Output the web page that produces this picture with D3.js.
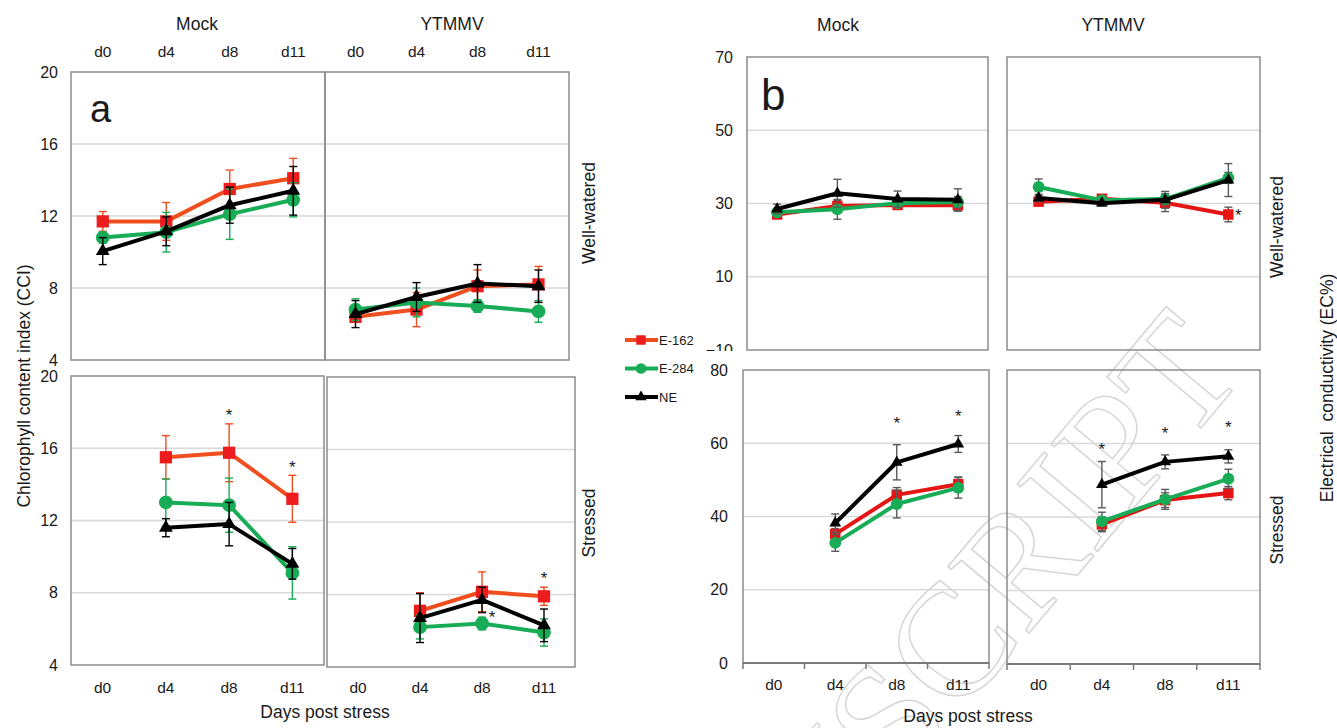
<!DOCTYPE html>
<html>
<head>
<meta charset="utf-8">
<script src="https://cdn.jsdelivr.net/npm/d3@7"></script>
<style>
body { margin: 0; background: #fff; }
text { font-family: "Liberation Sans", Arial, sans-serif; fill: #1a1a1a; }
</style>
</head>
<body>
<script>
// categories
var days = ["d0", "d4", "d8", "d11"];
var lineNames = ["E-162", "E-284", "NE"];

// tick labels
var ccTicks = [4, 8, 12, 16, 20];
var ecTicksTop = [-10, 10, 30, 50, 70];
var ecTicksBottom = [0, 20, 40, 60, 80];

// panel a: chlorophyll content index (CCI), mean and error
var ccMockWellE162 = [11.7, 11.7, 13.5, 14.1];
var ccMockWellE162Err = [0.55, 1.05, 1.05, 1.1];
var ccMockWellE284 = [10.8, 11.1, 12.1, 12.9];
var ccMockWellE284Err = [0.3, 1.1, 1.4, 0.95];
var ccMockWellNE = [10.05, 11.15, 12.6, 13.4];
var ccMockWellNEErr = [0.75, 0.8, 1.0, 1.35];

var ccVirusWellE162 = [6.4, 6.8, 8.1, 8.2];
var ccVirusWellE162Err = [0.3, 0.95, 0.9, 1.0];
var ccVirusWellE284 = [6.8, 7.2, 7.0, 6.7];
var ccVirusWellE284Err = [0.6, 0.8, 0.35, 0.6];
var ccVirusWellNE = [6.55, 7.5, 8.25, 8.1];
var ccVirusWellNEErr = [0.75, 0.8, 1.05, 0.9];

var ccMockStressE162 = [null, 15.5, 15.75, 13.2];
var ccMockStressE162Err = [null, 1.2, 1.6, 1.3];
var ccMockStressE284 = [null, 13.0, 12.85, 9.1];
var ccMockStressE284Err = [null, 1.3, 1.5, 1.45];
var ccMockStressNE = [null, 11.6, 11.8, 9.6];
var ccMockStressNEErr = [null, 0.5, 1.2, 0.85];

var ccVirusStressE162 = [null, 7.1, 8.15, 7.9];
var ccVirusStressE162Err = [null, 1.0, 1.1, 0.5];
var ccVirusStressE284 = [null, 6.2, 6.4, 5.9];
var ccVirusStressE284Err = [null, 0.65, 0.35, 0.75];
var ccVirusStressNE = [null, 6.7, 7.7, 6.3];
var ccVirusStressNEErr = [null, 1.35, 0.7, 0.9];

// panel b: electrical conductivity (EC%), mean and error
var ecMockWellE162 = [27.0, 29.3, 29.6, 29.5];
var ecMockWellE162Err = [0.8, 1.5, 1.2, 1.6];
var ecMockWellE284 = [27.6, 28.4, 30.1, 30.4];
var ecMockWellE284Err = [0.8, 2.7, 1.0, 1.5];
var ecMockWellNE = [28.5, 32.8, 31.2, 31.0];
var ecMockWellNEErr = [1.3, 3.8, 2.2, 3.0];

var ecVirusWellE162 = [30.5, 31.3, 30.2, 27.0];
var ecVirusWellE162Err = [1.0, 1.0, 2.4, 2.0];
var ecVirusWellE284 = [34.5, 30.9, 31.2, 37.0];
var ecVirusWellE284Err = [2.2, 0.8, 1.5, 1.5];
var ecVirusWellNE = [31.5, 30.1, 31.0, 36.4];
var ecVirusWellNEErr = [1.0, 0.8, 2.3, 4.5];

var ecMockStressE162 = [null, 35.2, 45.9, 48.8];
var ecMockStressE162Err = [null, 1.5, 2.0, 2.0];
var ecMockStressE284 = [null, 32.8, 43.4, 47.8];
var ecMockStressE284Err = [null, 2.3, 3.8, 2.8];
var ecMockStressNE = [null, 38.2, 54.8, 59.8];
var ecMockStressNEErr = [null, 2.5, 4.8, 2.3];

var ecVirusStressE162 = [null, 38.0, 44.6, 46.5];
var ecVirusStressE162Err = [null, 2.0, 2.0, 1.8];
var ecVirusStressE284 = [null, 38.8, 44.8, 50.4];
var ecVirusStressE284Err = [null, 2.5, 2.7, 2.6];
var ecVirusStressNE = [null, 48.8, 55.0, 56.5];
var ecVirusStressNEErr = [null, 6.3, 1.9, 1.8];

// significance stars (day, value where the star sits, placed beside the point or above)
var ccMockStressStars = [{day: "d8", v: 18.1}, {day: "d11", v: 15.2}];
var ccVirusStressStars = [{day: "d8", v: 7.0, beside: true}, {day: "d11", v: 9.15}];
var ecVirusWellStars = [{day: "d11", v: 28.2, beside: true}];
var ecMockStressStars = [{day: "d8", v: 66.9}, {day: "d11", v: 68.8}];
var ecVirusStressStars = [{day: "d4", v: 59.8}, {day: "d8", v: 64.2}, {day: "d11", v: 65.8}];

var width = 1337, height = 728;

var svg = d3.select("body").append("svg")
    .attr("width", width)
    .attr("height", height);

svg.append("rect").attr("width", width).attr("height", height).attr("fill", "#fff");

// faint watermark behind everything
svg.append("text")
    .attr("transform", "translate(1248,372) rotate(-50)")
    .attr("text-anchor", "end")
    .style("font-family", "'Liberation Serif', 'Times New Roman', serif")
    .style("font-size", "160px")
    .style("fill", "none")
    .style("stroke", "#d6d6d6")
    .style("stroke-width", 1.5)
    .text("MANUSCRIPT");

var colA = {red: "#f04e1e", redMark: "#ec1c1c", green: "#17ac55", black: "#000"};
var colB = {red: "#e51515", redMark: "#e51515", green: "#17ac55", black: "#000"};

function makeSeries(vals, errs, cols, errGray) {
    var names = ["red", "green", "black"];
    var marks = [d3.symbolSquare, d3.symbolCircle, d3.symbolTriangle];
    return vals.map(function(v, i) {
        var c = cols[names[i]];
        return {
            name: lineNames[i],
            values: v,
            errors: errs[i],
            line: c,
            mark: i == 0 ? cols.redMark : c,
            err: errGray ? "#5a5a5a" : c,
            symbol: marks[i]
        };
    });
}

function drawPanel(p) {
    var x = d3.scaleBand().domain(days).range([p.x0, p.x1]);
    var y = d3.scaleLinear().domain([p.ticks[0], p.ticks[p.ticks.length - 1]]).range([p.y1, p.y0]);
    var g = svg.append("g");
    var cx = function(d) { return x(d) + x.bandwidth() / 2; };

    // gridlines
    g.selectAll(".grid")
        .data(p.ticks.slice(1, -1))
        .enter()
        .append("line")
        .attr("x1", p.x0).attr("x2", p.x1)
        .attr("y1", function(d) { return y(d); })
        .attr("y2", function(d) { return y(d); })
        .attr("stroke", "#d9d9d9")
        .attr("stroke-width", 1.5);

    g.append("rect")
        .attr("x", p.x0).attr("y", p.y0)
        .attr("width", p.x1 - p.x0).attr("height", p.y1 - p.y0)
        .attr("fill", "none")
        .attr("stroke", "#8c8c8c")
        .attr("stroke-width", 1.5);

    if (p.leftTicks) {
        var ax = g.append("g")
            .attr("transform", "translate(" + p.x0 + ",0)")
            .call(d3.axisLeft(y).tickValues(p.ticks).tickSize(0).tickPadding(p.leftPad));
        ax.select(".domain").remove();
        ax.selectAll("text").style("font-size", "16px").attr("font-family", null);
        if (p.clipBelow) {
            // the lowest label is cut by the panel below, as in the figure
            var id = "clip" + Math.round(p.x0);
            svg.append("clipPath").attr("id", id)
                .append("rect").attr("x", -200).attr("y", 0).attr("width", 400).attr("height", p.clipBelow);
            ax.attr("clip-path", "url(#" + id + ")");
        }
    }

    if (p.topLabels) {
        var at = g.append("g")
            .attr("transform", "translate(0," + p.y0 + ")")
            .call(d3.axisTop(x).tickSize(0).tickPadding(15));
        at.select(".domain").remove();
        at.selectAll("text").style("font-size", "15.5px").attr("font-family", null);
    }

    if (p.bottomLabels) {
        var ab = g.append("g")
            .attr("transform", "translate(0," + p.y1 + ")")
            .call(d3.axisBottom(x).tickSize(0).tickPadding(p.bottomPad));
        ab.select(".domain").remove();
        ab.selectAll("text").style("font-size", "15.5px").attr("font-family", null);
    }

    if (p.tickMarks) {
        var edges = days.map(function(d) { return x(d); }).concat([p.x1]);
        g.append("line")
            .attr("x1", p.x0).attr("x2", p.x1)
            .attr("y1", p.y1).attr("y2", p.y1)
            .attr("stroke", "#7a7a7a").attr("stroke-width", 2);
        g.selectAll(".tk").data(edges).enter().append("line")
            .attr("x1", function(d) { return d; })
            .attr("x2", function(d) { return d; })
            .attr("y1", p.y1).attr("y2", p.y1 + 6)
            .attr("stroke", "#7a7a7a").attr("stroke-width", 1.5);
    }

    var line = d3.line()
        .defined(function(d) { return d.v != null; })
        .x(function(d) { return cx(d.day); })
        .y(function(d) { return y(d.v); });

    p.series.forEach(function(s) {
        var pts = days.map(function(d, i) { return {day: d, v: s.values[i], e: s.errors[i]}; })
            .filter(function(d) { return d.v != null; });

        g.append("path")
            .datum(pts)
            .attr("d", line)
            .attr("fill", "none")
            .attr("stroke", s.line)
            .attr("stroke-width", p.lineWidth)
            .attr("stroke-linejoin", "round");

        var eb = g.append("g").selectAll("g").data(pts).enter().append("g")
            .attr("stroke", s.err).attr("stroke-width", 1.4);
        eb.append("line")
            .attr("x1", function(d) { return cx(d.day); })
            .attr("x2", function(d) { return cx(d.day); })
            .attr("y1", function(d) { return y(d.v - d.e); })
            .attr("y2", function(d) { return y(d.v + d.e); });
        [-1, 1].forEach(function(sg) {
            eb.append("line")
                .attr("x1", function(d) { return cx(d.day) - 4; })
                .attr("x2", function(d) { return cx(d.day) + 4; })
                .attr("y1", function(d) { return y(d.v + sg * d.e); })
                .attr("y2", function(d) { return y(d.v + sg * d.e); });
        });

        var size = s.symbol == d3.symbolTriangle ? p.markSize * 0.55 : p.markSize;
        g.append("g").selectAll("path").data(pts).enter().append("path")
            .attr("d", d3.symbol().type(s.symbol).size(size))
            .attr("transform", function(d) {
                return "translate(" + cx(d.day) + "," + y(d.v) + ")";
            })
            .attr("fill", s.mark);
    });

    (p.stars || []).forEach(function(st) {
        g.append("text")
            .attr("x", cx(st.day) + (st.beside ? 10 : 0))
            .attr("y", y(st.v))
            .attr("dy", "0.62em")
            .attr("text-anchor", "middle")
            .style("font-size", "17px")
            .text("*");
    });
}

var panels = [
    // panel a
    {x0: 71, x1: 325, y0: 72, y1: 360, ticks: ccTicks, leftTicks: true, leftPad: 13, topLabels: true,
     lineWidth: 4, markSize: 150,
     series: makeSeries([ccMockWellE162, ccMockWellE284, ccMockWellNE],
         [ccMockWellE162Err, ccMockWellE284Err, ccMockWellNEErr], colA, false)},
    {x0: 325, x1: 569, y0: 72, y1: 360, ticks: ccTicks, topLabels: true,
     lineWidth: 4, markSize: 150,
     series: makeSeries([ccVirusWellE162, ccVirusWellE284, ccVirusWellNE],
         [ccVirusWellE162Err, ccVirusWellE284Err, ccVirusWellNEErr], colA, false)},
    {x0: 71, x1: 324, y0: 376, y1: 665, ticks: ccTicks, leftTicks: true, leftPad: 13, bottomLabels: true, bottomPad: 16.5,
     lineWidth: 4, markSize: 150, stars: ccMockStressStars,
     series: makeSeries([ccMockStressE162, ccMockStressE284, ccMockStressNE],
         [ccMockStressE162Err, ccMockStressE284Err, ccMockStressNEErr], colA, false)},
    {x0: 327, x1: 575, y0: 377, y1: 667, ticks: ccTicks, bottomLabels: true, bottomPad: 14.5,
     lineWidth: 4, markSize: 150, stars: ccVirusStressStars,
     series: makeSeries([ccVirusStressE162, ccVirusStressE284, ccVirusStressNE],
         [ccVirusStressE162Err, ccVirusStressE284Err, ccVirusStressNEErr], colA, false)},
    // panel b
    {x0: 747, x1: 988, y0: 57, y1: 350, ticks: ecTicksTop, leftTicks: true, leftPad: 14, clipBelow: 351,
     lineWidth: 4, markSize: 110,
     series: makeSeries([ecMockWellE162, ecMockWellE284, ecMockWellNE],
         [ecMockWellE162Err, ecMockWellE284Err, ecMockWellNEErr], colB, true)},
    {x0: 1007, x1: 1260, y0: 57, y1: 350, ticks: ecTicksTop,
     lineWidth: 4, markSize: 110, stars: ecVirusWellStars,
     series: makeSeries([ecVirusWellE162, ecVirusWellE284, ecVirusWellNE],
         [ecVirusWellE162Err, ecVirusWellE284Err, ecVirusWellNEErr], colB, true)},
    {x0: 743, x1: 989, y0: 370, y1: 663, ticks: ecTicksBottom, leftTicks: true, leftPad: 15,
     bottomLabels: true, bottomPad: 15.5, tickMarks: true,
     lineWidth: 4, markSize: 110, stars: ecMockStressStars,
     series: makeSeries([ecMockStressE162, ecMockStressE284, ecMockStressNE],
         [ecMockStressE162Err, ecMockStressE284Err, ecMockStressNEErr], colB, true)},
    {x0: 1007, x1: 1260, y0: 370, y1: 664, ticks: ecTicksBottom,
     bottomLabels: true, bottomPad: 14.5, tickMarks: true,
     lineWidth: 4, markSize: 110, stars: ecVirusStressStars,
     series: makeSeries([ecVirusStressE162, ecVirusStressE284, ecVirusStressNE],
         [ecVirusStressE162Err, ecVirusStressE284Err, ecVirusStressNEErr], colB, true)}
];

panels.forEach(drawPanel);

// titles and labels
function label(txt, x, y, size, rot, anchor) {
    svg.append("text")
        .attr("transform", "translate(" + x + "," + y + ")" + (rot ? " rotate(" + rot + ")" : ""))
        .attr("text-anchor", anchor || "middle")
        .style("font-size", size + "px")
        .style("white-space", "pre")
        .text(txt);
}

label("Mock", 197, 30, 17.5);
label("YTMMV", 452, 30, 17.5);
label("Mock", 838, 31, 17.5);
label("YTMMV", 1113, 31, 17.5);
label("Days post stress", 325, 718, 17.5);
label("Days post stress", 968, 722, 17.5);
label("Well-watered", 595, 213, 17.5, -90);
label("Stressed", 595, 523, 17.5, -90);
label("Well-watered", 1283, 227, 17.5, -90);
label("Stressed", 1283, 530, 17.5, -90);
label("Chlorophyll content index (CCI)", 30, 386, 17.5, -90);
label("Electrical  conductivity (EC%)", 1333, 388, 17.5, -90);
label("a", 90, 122, 38, 0, "start");
label("b", 761, 110, 44, 0, "start");

// legend
var legendY = d3.scalePoint().domain(lineNames).range([340, 397]);
var legendSeries = makeSeries([[], [], []], [[], [], []], colA, false);
var lg = svg.append("g").selectAll("g").data(legendSeries).enter().append("g")
    .attr("transform", function(d) { return "translate(0," + legendY(d.name) + ")"; });
lg.append("line")
    .attr("x1", 625).attr("x2", 658)
    .attr("stroke", function(d) { return d.line; })
    .attr("stroke-width", 4);
lg.append("path")
    .attr("d", function(d) {
        return d3.symbol().type(d.symbol).size(d.symbol == d3.symbolTriangle ? 55 : 90)();
    })
    .attr("transform", "translate(641,0)")
    .attr("fill", function(d) { return d.mark; });
lg.append("text")
    .attr("x", 659)
    .attr("dy", "0.35em")
    .style("font-family", "'Liberation Sans Narrow', 'Arial Narrow', sans-serif")
    .style("font-size", "13px")
    .text(function(d) { return d.name; });
</script>
</body>
</html>
